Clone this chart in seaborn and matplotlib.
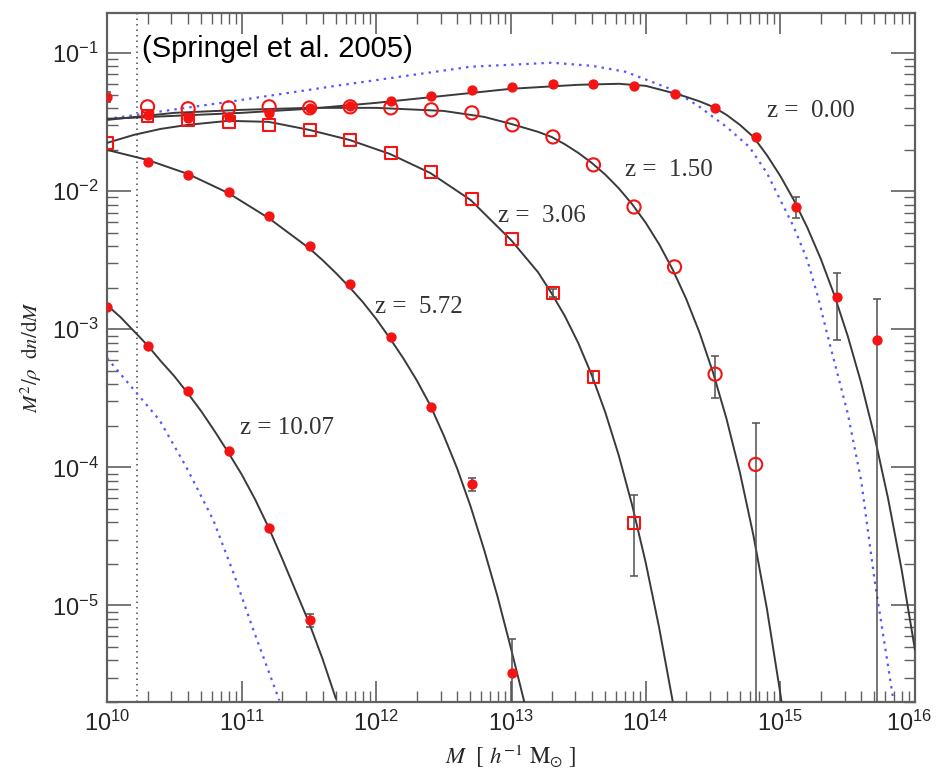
import numpy as np
import pandas as pd
import matplotlib
matplotlib.use("Agg")
import matplotlib.pyplot as plt
import seaborn as sns
from matplotlib.ticker import FixedLocator, FixedFormatter, LogLocator, NullFormatter
from matplotlib.transforms import ScaledTranslation

# ---------------- data ----------------
mass_bins = [1.0e10, 2.0e10, 4.0e10, 8.0e10, 1.6e11, 3.2e11, 6.4e11, 1.28e12,
             2.56e12, 5.12e12, 1.024e13, 2.048e13, 4.096e13, 8.192e13,
             1.638e14, 3.277e14, 6.554e14, 1.311e15, 2.621e15, 5.243e15]

# simulation points  (M^2/rho dn/dM)
z000_vals = [0.0482, 0.0357, 0.0340, 0.0345, 0.0369, 0.0401, 0.0415, 0.0451,
             0.0490, 0.0537, 0.0570, 0.0599, 0.0599, 0.0579, 0.0507, 0.0401,
             0.0247, 0.00768, 0.00171, 0.000834]            # bins 0..19
z150_vals = [0.0408, 0.0395, 0.0401, 0.0408, 0.0401, 0.0408, 0.0401, 0.0388,
             0.0369, 0.0302, 0.0247, 0.0155, 0.00768, 0.00283, 0.000473,
             0.000105]                                      # bins 1..16
z306_vals = [0.0223, 0.0351, 0.0328, 0.0317, 0.0302, 0.0278, 0.0235, 0.0189,
             0.0138, 0.00877, 0.00450, 0.00183, 0.000450, 3.93e-5]  # bins 0..13
z572_vals = [0.01626, 0.01312, 0.00987, 0.00661, 0.00401, 0.00212, 0.000877,
             0.000272, 7.53e-5, 3.27e-6]                    # bins 1..10
z1007_vals = [0.00145, 0.000755, 0.000356, 0.000131, 3.62e-5, 7.80e-6]  # bins 0..5

# error bars
err_mass = [1.0e10, 1.311e15, 2.621e15, 5.243e15, 3.277e14, 6.554e14,
            8.192e13, 4.096e13, 2.048e13, 5.12e12, 1.024e13, 3.2e11]
err_center = [0.0482, 0.00768, 0.00171, 0.000834, 0.000473, 0.000105,
              3.93e-5, 0.000450, 0.00183, 7.53e-5, 3.27e-6, 7.80e-6]
err_low = [0.0445, 0.0064, 0.000834, 1e-8, 0.000316, 1e-8,
           1.64e-5, 0.000405, 0.00172, 6.7e-5, 1e-8, 7.0e-6]
err_high = [0.0525, 0.00908, 0.00255, 0.00167, 0.000637, 0.000209,
            6.27e-5, 0.000500, 0.00195, 8.4e-5, 5.75e-6, 8.7e-6]

# fitted mass functions (solid curves)
fit_z000_logm = [10.0, 10.5, 11.0, 11.5, 12.0, 12.5, 13.0, 13.5, 13.8, 14.0,
                 14.2, 14.3, 14.4, 14.5, 14.6, 14.7, 14.8, 14.9, 15.0, 15.1,
                 15.2, 15.3, 15.4, 15.5, 15.6, 15.7, 15.8, 15.9, 16.0]
fit_z000_vals = [0.0334, 0.0351, 0.0369, 0.0395, 0.0436, 0.0490, 0.0551, 0.0589,
                 0.0599, 0.0579, 0.0515, 0.0482, 0.0447, 0.0408, 0.0357, 0.0302,
                 0.0247, 0.01824, 0.01287, 0.00863, 0.00546, 0.00324, 0.001778,
                 0.000896, 0.000409, 0.0001665, 5.95e-5, 1.833e-5, 4.76e-6]
fit_z150_logm = [10.0, 10.5, 11.0, 11.5, 12.0, 12.5, 12.8, 13.0, 13.2, 13.3,
                 13.4, 13.5, 13.6, 13.7, 13.8, 13.9, 14.0, 14.1, 14.2, 14.3,
                 14.4, 14.5, 14.6, 14.7, 14.8, 14.9, 15.0, 15.05]
fit_z150_vals = [0.0328, 0.0369, 0.0388, 0.0401, 0.0401, 0.0381, 0.0345, 0.0307,
                 0.0269, 0.02472, 0.02185, 0.01892, 0.01601, 0.01318, 0.01049,
                 0.00804, 0.00591, 0.004127, 0.002713, 0.001667, 0.000945,
                 0.000487, 0.0002251, 9.17e-5, 3.22e-5, 9.50e-6, 2.30e-6, 1.05e-6]
fit_z306_logm = [10.0, 10.2, 10.4, 10.6, 10.9, 11.2, 11.5, 11.8, 12.1, 12.4,
                 12.7, 13.0, 13.2, 13.3, 13.4, 13.5, 13.6, 13.7, 13.8, 13.9,
                 14.0, 14.1, 14.2]
fit_z306_vals = [0.02236, 0.02556, 0.02825, 0.0302, 0.03229, 0.03176, 0.0278,
                 0.0235, 0.01861, 0.01355, 0.00863, 0.00443, 0.002594, 0.00183,
                 0.001245, 0.000793, 0.000465, 0.0002506, 0.0001222, 5.30e-5,
                 2.05e-5, 6.91e-6, 2.04e-6]
fit_z572_logm = [10.0, 10.3, 10.6, 10.9, 11.2, 11.5, 11.6, 11.7, 11.8, 11.9,
                 12.0, 12.1, 12.2, 12.3, 12.4, 12.5, 12.6, 12.7, 12.8, 12.9,
                 13.0, 13.1]
fit_z572_vals = [0.01990, 0.01683, 0.01333, 0.00970, 0.00639, 0.003873, 0.003170,
                 0.002551, 0.002019, 0.001572, 0.001184, 0.000862, 0.000617,
                 0.000427, 0.0002817, 0.0001706, 9.83e-5, 5.21e-5, 2.54e-5,
                 1.160e-5, 4.87e-6, 1.98e-6]
fit_z1007_logm = [10.0, 10.1, 10.2, 10.3, 10.4, 10.5, 10.6, 10.7, 10.8, 10.9,
                  11.0, 11.1, 11.2, 11.3, 11.4, 11.5, 11.6, 11.7]
fit_z1007_vals = [0.001495, 0.001224, 0.000969, 0.000767, 0.000587, 0.000457,
                  0.000344, 0.0002547, 0.0001824, 0.0001284, 8.89e-5, 5.86e-5,
                  3.67e-5, 2.19e-5, 1.282e-5, 7.52e-6, 4.12e-6, 2.11e-6]

# Press-Schechter (blue dotted)
ps_z000_logm = [10.0, 10.9, 11.7, 12.7, 13.3, 13.6, 13.85, 14.2, 14.4, 14.6,
                14.77, 14.9, 15.0, 15.1, 15.2, 15.28, 15.35, 15.5, 15.6, 15.7, 15.84]
ps_z000_vals = [0.0333, 0.0443, 0.0579, 0.0796, 0.0851, 0.0809, 0.0732, 0.0542,
                0.0408, 0.0292, 0.0209, 0.01355, 0.00863, 0.00550, 0.00317,
                0.00171, 0.000906, 0.000247, 8.06e-5, 1.52e-5, 2.05e-6]
ps_z1007_logm = [10.0, 10.22, 10.39, 10.59, 10.79, 10.94, 11.08, 11.28]
ps_z1007_vals = [0.000619, 0.000345, 0.00022, 0.0001, 4.14e-5, 1.71e-5,
                 6.93e-6, 2.05e-6]

resolution_limit = 1.67e10

z_labels = ["z =  0.00", "z =  1.50", "z =  3.06", "z =  5.72", "z = 10.07"]
z_label_pos = [(0.817, 0.858), (0.641, 0.772), (0.484, 0.705),
               (0.332, 0.573), (0.165, 0.398)]

x_tick_values = [1e10, 1e11, 1e12, 1e13, 1e14, 1e15, 1e16]
x_tick_labels = [r"$\mathregular{10^{10}}$", r"$\mathregular{10^{11}}$",
                 r"$\mathregular{10^{12}}$", r"$\mathregular{10^{13}}$",
                 r"$\mathregular{10^{14}}$", r"$\mathregular{10^{15}}$",
                 r"$\mathregular{10^{16}}$"]
y_tick_values = [1e-5, 1e-4, 1e-3, 1e-2, 1e-1]
y_tick_labels = [r"$\mathregular{10^{-5}}$", r"$\mathregular{10^{-4}}$",
                 r"$\mathregular{10^{-3}}$", r"$\mathregular{10^{-2}}$",
                 r"$\mathregular{10^{-1}}$"]

title_text = "(Springel et al. 2005)"
x_label = r"$M$  [ $h^{-1}$ M$_{\odot}$ ]"
y_label = r"$M^2/\rho\ \ \mathrm{d}n/\mathrm{d}M$"

# ---------------- style ----------------
sns.set_theme(style="ticks")
plt.rcParams["font.family"] = ["Liberation Sans", "DejaVu Sans"]
plt.rcParams["mathtext.fontset"] = "stix"

RED = "#f41414"
LINE = "#3a3a3a"
BLUE = "#5656ff"
SPINE = "#606060"

fig = plt.figure(figsize=(9.36, 7.68), dpi=100)
ax = fig.add_axes([0.11432, 0.08594, 0.86325, 0.89714])
ax.set_xscale("log")
ax.set_yscale("log")

# resolution limit
ax.axvline(resolution_limit, color="#4a4a4a", lw=1.1, ls=(0, (1, 2.6)), zorder=1)

# Press-Schechter curves
for lm, v in [(ps_z000_logm, ps_z000_vals), (ps_z1007_logm, ps_z1007_vals)]:
    sns.lineplot(x=10 ** np.array(lm), y=v, ax=ax, color=BLUE, lw=1.6,
                 ls=(0, (1.1, 2.3)), estimator=None, sort=False, zorder=2)

# fitted curves
fits = [(fit_z000_logm, fit_z000_vals), (fit_z150_logm, fit_z150_vals),
        (fit_z306_logm, fit_z306_vals), (fit_z572_logm, fit_z572_vals),
        (fit_z1007_logm, fit_z1007_vals)]
for lm, v in fits:
    sns.lineplot(x=10 ** np.array(lm), y=v, ax=ax, color=LINE, lw=1.4,
                 estimator=None, sort=False, zorder=3)

# error bars
ec = np.array(err_center)
ax.errorbar(err_mass, ec, yerr=[ec - np.array(err_low), np.array(err_high) - ec],
            fmt="none", ecolor="#505050", elinewidth=1.1, capsize=3.2,
            capthick=1.1, zorder=4)

# simulation points
sns.scatterplot(x=mass_bins[0:20], y=z000_vals, ax=ax, marker="o", s=55,
                color=RED, edgecolor=RED, linewidth=0, zorder=6)
sns.scatterplot(x=mass_bins[1:17], y=z150_vals, ax=ax, marker="o", s=90,
                facecolor="none", edgecolor=RED, linewidth=1.5, zorder=6)
sns.scatterplot(x=mass_bins[0:14], y=z306_vals, ax=ax, marker="s", s=72,
                facecolor="none", edgecolor=RED, linewidth=1.5, zorder=6)
sns.scatterplot(x=mass_bins[1:11], y=z572_vals, ax=ax, marker="o", s=55,
                color=RED, edgecolor=RED, linewidth=0, zorder=6)
sns.scatterplot(x=mass_bins[0:6], y=z1007_vals, ax=ax, marker="o", s=55,
                color=RED, edgecolor=RED, linewidth=0, zorder=6)

ax.set_xlim(1e10, 1e16)
ax.set_ylim(2e-6, 0.195)

# ticks
ax.xaxis.set_major_locator(FixedLocator(x_tick_values))
ax.xaxis.set_major_formatter(FixedFormatter(x_tick_labels))
ax.yaxis.set_major_locator(FixedLocator(y_tick_values))
ax.yaxis.set_major_formatter(FixedFormatter(y_tick_labels))
for axis in (ax.xaxis, ax.yaxis):
    axis.set_minor_locator(LogLocator(base=10, subs=np.arange(2, 10), numticks=100))
    axis.set_minor_formatter(NullFormatter())
ax.tick_params(which="both", direction="in", top=True, right=True,
               color=SPINE, labelcolor="#262626", labelsize=17, pad=6)
ax.tick_params(axis="x", which="major", length=15, width=1.2)
ax.tick_params(axis="y", which="major", length=17, width=1.2)
ax.tick_params(which="minor", length=8, width=1.0)
for sp in ax.spines.values():
    sp.set_color(SPINE)
    sp.set_linewidth(1.6)

# labels
ax.set_xlabel(x_label, fontsize=16.5, family="STIXGeneral", color="#262626")
ax.set_ylabel(y_label, fontsize=15, family="STIXGeneral", color="#262626")
ax.xaxis.label.set_va("center")
ax.yaxis.label.set_va("center")
ax.xaxis.set_label_coords(0.5, -0.077)
ax.yaxis.set_label_coords(-0.094, 0.5)

for lab, (px, py) in zip(z_labels, z_label_pos):
    ax.text(px, py, lab, transform=ax.transAxes, ha="left", va="center",
            fontsize=18, family="Liberation Serif", color="#333333", zorder=7)

fig.text(142 / 936, 1 - 49 / 768, title_text, fontsize=21,
         family=["Liberation Sans", "DejaVu Sans"], ha="left", va="center",
         color="black")

# keep the last x tick label inside the canvas
fig.canvas.draw()
last = ax.xaxis.get_major_ticks()[-1].label1
last.set_transform(last.get_transform() + ScaledTranslation(-6 / 100, 0, fig.dpi_scale_trans))

fig.savefig("out.png", dpi=100)
